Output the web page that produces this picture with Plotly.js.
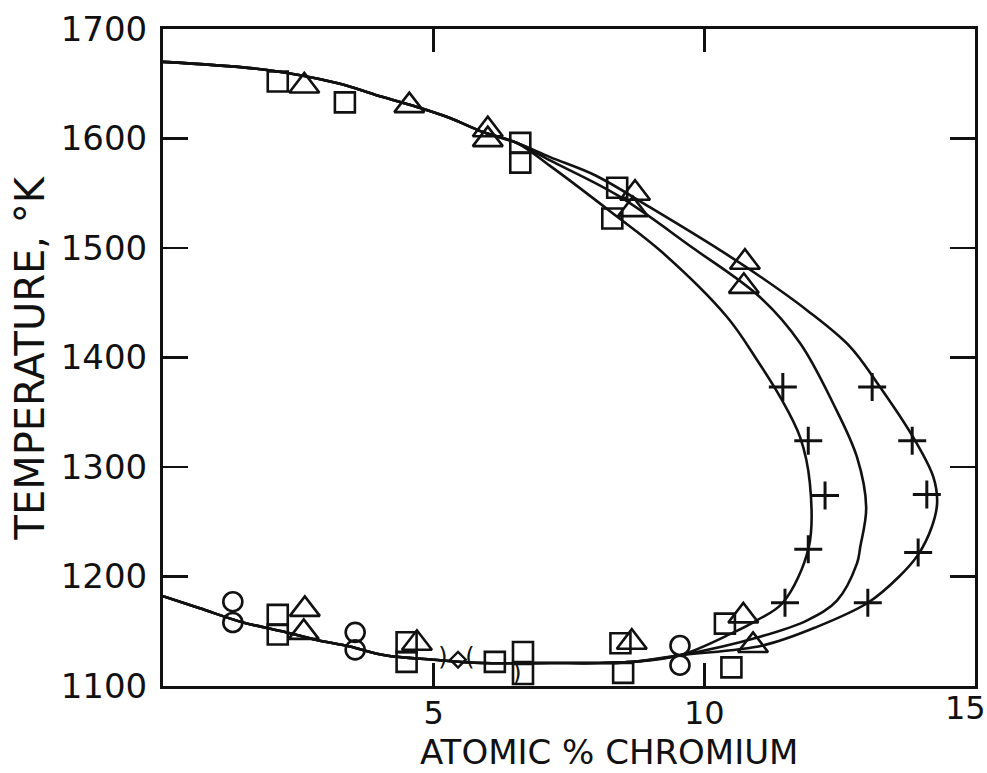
<!DOCTYPE html>
<html>
<head>
<meta charset="utf-8">
<script src="https://cdn.plot.ly/plotly-3.0.1.min.js"></script>
<style>
  html, body { margin: 0; padding: 0; background: #fff; }
  #chart { width: 987px; height: 773px; }
</style>
</head>
<body>
<div id="chart"></div>
<script>
// Gamma-loop boundary, temperature (°K) vs atomic % chromium

// Shared upper boundary (from pure iron towards the loop)
const upperX = [0, 1.92, 3.21, 4.06, 4.69, 5.30, 5.91, 6.54];
const upperY = [1670, 1662.6, 1650.7, 1637.9, 1628.8, 1618.7, 1605.9, 1595.9];

// Shared lower boundary (read from the loop back to pure iron)
const lowerX = [9.55, 8.68, 8.07, 7.15, 5.9, 5.0, 4.1, 3.45, 2.84, 2.2, 1.48, 0.68, 0];
const lowerY = [1128, 1122, 1121, 1121, 1121, 1124, 1128, 1136, 1142, 1150, 1158, 1171, 1182];

// Three nose branches
const innerX = [7.15, 8.3, 9.2, 10.42, 10.97, 11.4, 11.77, 11.95, 11.93, 11.45, 10.97, 10.5];
const innerY = [1575, 1532, 1497, 1437, 1398, 1364, 1327, 1285, 1227, 1176, 1160, 1148];

const middleX = [7.15, 8.4, 9.79, 11.03, 11.77, 12.38, 12.82, 12.99, 12.88, 12.82, 12.45, 11.9, 11.03];
const middleY = [1580, 1548, 1500, 1455, 1413, 1358, 1309, 1263, 1227, 1212, 1178, 1160, 1145];

const outerX = [7.15, 8.0, 9.0, 10.29, 11.03, 11.9, 12.69, 13.19, 13.86, 14.23, 14.3, 14.2, 13.95, 13.6, 13.02, 12.08, 11.08];
const outerY = [1583, 1566, 1537, 1498, 1474, 1443, 1410, 1377, 1327, 1291, 1267, 1245, 1220, 1200, 1176, 1154, 1137];

// Measured points
const squareX = [2.12, 3.36, 6.6, 6.6, 8.39, 8.3, 2.12, 2.12, 4.5, 4.5, 6.13, 6.65, 6.65, 8.45, 8.5, 10.38, 10.5];
const squareY = [1652, 1633, 1596, 1578, 1555, 1527, 1165, 1147, 1140, 1122, 1122, 1131, 1111, 1139, 1112, 1157, 1117];

const triangleX = [2.61, 4.55, 6.0, 6.0, 8.72, 8.68, 10.75, 10.73, 2.62, 2.6, 4.69, 8.66, 10.72, 10.9];
const triangleY = [1648, 1630, 1608, 1599, 1550, 1535, 1487, 1465, 1170, 1149, 1139, 1140, 1164, 1137];

const circleX = [1.29, 1.29, 3.55, 3.55, 9.55, 9.55];
const circleY = [1177, 1158, 1149, 1133, 1137, 1119];

const diamondX = [5.45];
const diamondY = [1124];

const arcX = [5.17, 5.67, 6.54];
const arcY = [1125, 1125, 1110];
const arcText = [")", "(", ")"];

const plusX = [11.45, 11.92, 12.23, 11.92, 11.49, 13.1, 13.84, 14.11, 13.95, 13.02];
const plusY = [1373, 1324, 1274, 1225, 1176, 1373, 1324, 1275, 1222, 1176];

const yTicks = [1100, 1200, 1300, 1400, 1500, 1600, 1700];
const yTickText = ["1100", "1200", "1300", "1400", "1500", "1600", "1700"];
const xTicks = [5, 10];
const xTickText = ["5", "10"];

const INK = "#111";
const FONT = "DejaVu Sans, sans-serif";

function branch(bx, by) {
  return {
    x: upperX.concat(bx, lowerX),
    y: upperY.concat(by, lowerY),
    mode: "lines",
    line: { color: INK, width: 2.6, shape: "spline", smoothing: 1 },
    hoverinfo: "skip",
    showlegend: false
  };
}

function pts(x, y, symbol, size, width) {
  return {
    x: x, y: y, mode: "markers",
    marker: { symbol: symbol, size: size, color: INK,
              line: { color: INK, width: width } },
    showlegend: false
  };
}

const traces = [
  branch(innerX, innerY),
  branch(middleX, middleY),
  branch(outerX, outerY),
  pts(squareX, squareY, "square-open", 20, 2.6),
  pts(triangleX, triangleY, "triangle-up-open", 26, 2.6),
  pts(circleX, circleY, "circle-open", 19, 2.6),
  pts(diamondX, diamondY, "diamond-open", 12, 2.4),
  {
    x: arcX, y: arcY, mode: "text", text: arcText,
    textfont: { family: FONT, size: 24, color: INK },
    textposition: "middle center", showlegend: false
  },
  pts(plusX, plusY, "cross-thin-open", 20, 3)
];

const layout = {
  width: 987, height: 773,
  margin: { l: 163, r: 12, t: 29, b: 87 },
  paper_bgcolor: "#fff", plot_bgcolor: "#fff",
  showlegend: false,
  xaxis: {
    range: [0, 15], tickvals: xTicks, ticktext: xTickText,
    ticks: "inside", ticklen: 23, tickwidth: 2.6, tickcolor: INK,
    showline: true, linewidth: 3, linecolor: INK, mirror: "ticks",
    showgrid: false, zeroline: false, ticklabelstandoff: -3,
    tickfont: { family: FONT, size: 32, color: INK }
  },
  yaxis: {
    range: [1100, 1700], tickvals: yTicks, ticktext: yTickText,
    ticks: "inside", ticklen: 25, tickwidth: 2.6, tickcolor: INK,
    showline: true, linewidth: 3, linecolor: INK, mirror: "ticks",
    showgrid: false, zeroline: false, ticklabelstandoff: 6,
    tickfont: { family: FONT, size: 34, color: INK }
  },
  annotations: [
    { text: "15", xref: "x", yref: "paper", x: 15, y: 0, xanchor: "center",
      yanchor: "top", xshift: -10, yshift: -1, showarrow: false,
      font: { family: FONT, size: 32, color: INK } },
    { text: "ATOMIC % CHROMIUM", xref: "paper", yref: "paper",
      x: 0.549, y: -0.1005, xanchor: "center", yanchor: "middle", showarrow: false,
      font: { family: FONT, size: 34, color: INK } },
    { text: "TEMPERATURE, °K", xref: "paper", yref: "paper",
      x: -0.1638, y: 0.5, xanchor: "center", yanchor: "middle", textangle: -90,
      showarrow: false, font: { family: FONT, size: 40, color: INK } }
  ]
};

Plotly.newPlot("chart", traces, layout, { staticPlot: true, displayModeBar: false });
</script>
</body>
</html>
